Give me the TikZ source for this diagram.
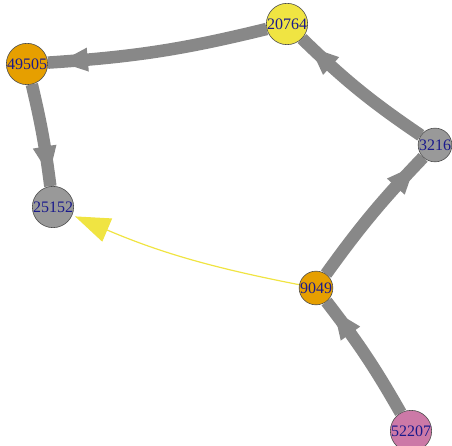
\documentclass[tikz,border=0pt]{standalone}
\usepackage{fontspec}
\setmainfont{Liberation Serif}
\usetikzlibrary{decorations.markings,arrows.meta,backgrounds}
\definecolor{edgegray}{HTML}{888888}
\definecolor{oiorange}{HTML}{E69F00}
\definecolor{oiyellow}{HTML}{F0E442}
\definecolor{oigray}{HTML}{999999}
\definecolor{oipink}{HTML}{CC79A7}
\definecolor{labelblue}{HTML}{1A1A8C}
\begin{document}
\begin{tikzpicture}[x=1pt,y=1pt,
  vtx/.style={circle,draw=black!70,line width=0.6pt,minimum size=31pt,inner sep=0pt,
    text=labelblue,font=\fontsize{16}{16}\selectfont},
  gedge/.style={draw=edgegray,line width=12.5pt,postaction={decorate},
    decoration={markings,mark=at position -40pt with
      {\fill[edgegray] (0,-12) -- (28,0) -- (0,12) -- cycle;}}},
  yedge/.style={draw=oiyellow,line width=1.2pt,-{Triangle[length=35pt,width=25pt]},shorten >=3pt}
]
\useasboundingbox (0,0) rectangle (452,446);
\node[vtx,fill=oiyellow] (n20764) at (287,422) {20764};
\node[vtx,fill=oiorange] (n49505) at (27,382) {49505};
\node[vtx,fill=oigray]   (n25152) at (53,239) {25152};
\node[vtx,fill=oigray]   (n3216)  at (435,301) {3216};
\node[vtx,fill=oiorange] (n9049)  at (316,158) {9049};
\node[vtx,fill=oipink]   (n52207) at (411,15) {52207};
\begin{pgfonlayer}{background}
\draw[gedge] (n20764) to[bend left=5] (n49505);
\draw[gedge] (n49505) to[bend left=3] (n25152);
\draw[gedge] (n3216) to[bend left=5] (n20764);
\draw[gedge] (n9049) to[bend left=4] (n3216);
\draw[gedge] (n52207) to[bend right=4] (n9049);
\draw[yedge] (n9049) to[bend left=6] (n25152);
\end{pgfonlayer}
\end{tikzpicture}
\end{document}
